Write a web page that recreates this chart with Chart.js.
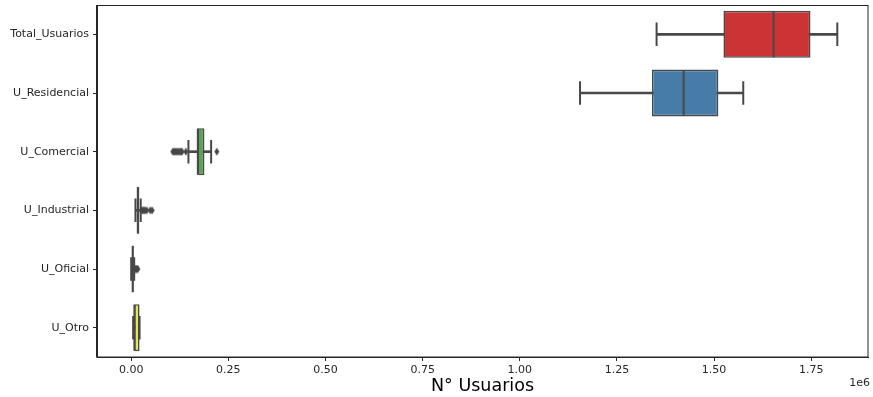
<!DOCTYPE html>
<html>
<head>
<meta charset="utf-8">
<script src="https://cdn.jsdelivr.net/npm/chart.js@4.4.0/dist/chart.umd.min.js"></script>
<style>
  html, body { margin: 0; padding: 0; background: #ffffff; }
  #wrap { width: 873px; height: 397px; position: relative; }
</style>
</head>
<body>
<div id="wrap"><canvas id="c" width="873" height="397"></canvas></div>
<script>
// ---- Data (values in number of users) ----
const categories = ['Total_Usuarios', 'U_Residencial', 'U_Comercial', 'U_Industrial', 'U_Oficial', 'U_Otro'];
const whiskerLow  = [1352000, 1155000, 147300, 11000,    0,  5000];
const q1Values    = [1524000, 1340000, 170400, 15000, 1300,  7700];
const medians     = [1653000, 1421600, 171500, 17000, 4000,  8300];
const q3Values    = [1748000, 1511000, 188500, 21000, 6400, 21500];
const whiskerHigh = [1817000, 1575000, 205700, 24500, 7700, 21500];
const outliers = [
  [],
  [],
  [107000, 110000, 113000, 116000, 119000, 122000, 125000, 128000, 131000, 140600, 220300],
  [27000, 30000, 33000, 36000, 40000, 49000, 54000],
  [9000, 11000, 13000, 15000, 17000],
  []
];
const boxColors = ['#cb3335', '#477ca8', '#59a256', '#905998', '#df7f20', '#e6e64d'];
const xTickValues = [0, 250000, 500000, 750000, 1000000, 1250000, 1500000, 1750000];
const xMin = -88000, xMax = 1896000;

const lineGray = '#484848';

// thin diamond marker (like matplotlib 'd')
const diamond = document.createElement('canvas');
diamond.width = 6; diamond.height = 9;
(function () {
  const g = diamond.getContext('2d');
  g.fillStyle = lineGray;
  g.beginPath();
  g.moveTo(3, 0.5); g.lineTo(5.5, 4.5); g.lineTo(3, 8.5); g.lineTo(0.5, 4.5);
  g.closePath(); g.fill();
})();

const whiskerData = categories.map((c, i) => [whiskerLow[i], whiskerHigh[i]]);
const boxData = categories.map((c, i) => [q1Values[i], q3Values[i]]);
const capData = [];
categories.forEach((c, i) => {
  capData.push({ x: whiskerLow[i], y: c });
  capData.push({ x: whiskerHigh[i], y: c });
});
const medianData = categories.map((c, i) => ({ x: medians[i], y: c }));
const outlierData = [];
categories.forEach((c, i) => outliers[i].forEach(v => outlierData.push({ x: v, y: c })));

const framePlugin = {
  id: 'frame',
  afterDraw(chart) {
    const { ctx, chartArea: a } = chart;
    ctx.save();
    ctx.strokeStyle = '#262626';
    ctx.lineWidth = 1;
    ctx.strokeRect(Math.round(a.left) - 0.5, Math.round(a.top) + 0.5, Math.round(a.right - a.left) + 0.5, Math.round(a.bottom - a.top) - 0.5);
    ctx.fillStyle = '#262626';
    ctx.font = '11px "DejaVu Sans"';
    ctx.textAlign = 'right';
    ctx.textBaseline = 'middle';
    ctx.fillText('1e6', 870, 383);
    ctx.restore();
  }
};

new Chart(document.getElementById('c'), {
  type: 'bar',
  data: {
    labels: categories,
    datasets: [
      {
        label: 'whisker', data: whiskerData, indexAxis: 'y', grouped: false,
        backgroundColor: lineGray, borderWidth: 0, barThickness: 2, order: 5
      },
      {
        type: 'scatter', label: 'caps', data: capData,
        pointStyle: 'line', pointRotation: 90, pointRadius: 11.75, pointHoverRadius: 11.75,
        pointBorderColor: lineGray, pointBorderWidth: 2, order: 4
      },
      {
        label: 'box', data: boxData, indexAxis: 'y', grouped: false,
        backgroundColor: boxColors, borderColor: lineGray, borderWidth: 1.6, borderSkipped: false,
        barPercentage: 0.8, categoryPercentage: 1.0, order: 3
      },
      {
        type: 'scatter', label: 'median', data: medianData,
        pointStyle: 'line', pointRotation: 90, pointRadius: 23, pointHoverRadius: 23,
        pointBorderColor: lineGray, pointBorderWidth: 2, order: 2
      },
      {
        type: 'scatter', label: 'outliers', data: outlierData,
        pointStyle: diamond, pointRadius: 4, order: 1
      }
    ]
  },
  options: {
    indexAxis: 'y',
    responsive: false,
    animation: false,
    devicePixelRatio: 1,
    layout: { autoPadding: false, padding: { left: 0, right: 5, top: 5, bottom: 0 } },
    plugins: { legend: { display: false }, tooltip: { enabled: false } },
    scales: {
      x: {
        type: 'linear', position: 'bottom', min: xMin, max: xMax,
        grid: { drawOnChartArea: false, drawTicks: true, tickLength: 4, tickColor: '#262626', tickWidth: 1 },
        border: { display: true, color: '#262626', width: 1 },
        ticks: {
          maxRotation: 0, autoSkip: false,
          color: '#262626', font: { family: 'DejaVu Sans', size: 11 }, padding: 3,
          callback: v => (v / 1e6).toFixed(2)
        },
        afterBuildTicks(scale) { scale.ticks = xTickValues.map(v => ({ value: v })); },
        title: { display: true, text: 'N° Usuarios', color: '#000', font: { family: 'DejaVu Sans', size: 17.5 }, padding: { top: 0, bottom: 0 } },
        afterFit(scale) { scale.height = 40; scale.paddingLeft = 0; scale.paddingRight = 0; }
      },
      y: {
        type: 'category', labels: categories, position: 'left', offset: true,
        grid: { drawOnChartArea: false, drawTicks: true, tickLength: 4, tickColor: '#262626', tickWidth: 1, offset: false },
        border: { display: true, color: '#262626', width: 1 },
        ticks: { color: '#262626', font: { family: 'DejaVu Sans', size: 11 }, padding: 4, autoSkip: false },
        afterFit(scale) { scale.width = 97; scale.paddingTop = 0; scale.paddingBottom = 0; }
      }
    }
  },
  plugins: [framePlugin]
});
</script>
</body>
</html>
